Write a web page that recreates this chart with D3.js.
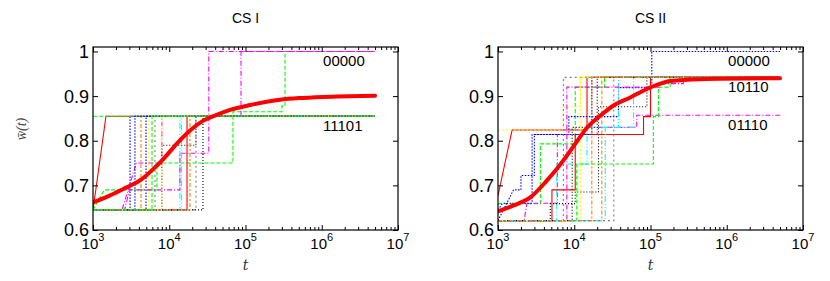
<!DOCTYPE html>
<html><head><meta charset="utf-8">
<script src="https://cdn.jsdelivr.net/npm/d3@7"></script>
<style>
html,body{margin:0;padding:0;background:#fff;}
svg{display:block;}
</style></head>
<body>
<script>
// ---------- data ----------
const panelTitles = ["CS I", "CS II"];
const xTickValues = [1e3, 1e4, 1e5, 1e6, 1e7];
const xTickExponents = ["3", "4", "5", "6", "7"];
const yTickValues = [0.6, 0.7, 0.8, 0.9, 1.0];
const yTickLabels = ["0.6", "0.7", "0.8", "0.9", "1"];
const END = 5e6;

// CS I : individual runs, [t, w] vertices
const cs1Runs = [
  [[1e3,.645],[1.48e3,.855],[END,.855]],
  [[1e3,.645],[1.4e3,.69],[6.9e3,.69],[6.9e3,.75],[6.85e4,.75],[6.85e4,.865],[3.0e5,.865],[3.0e5,.878],[3.3e5,.878],[3.3e5,1.0],[END,1.0]],
  [[1e3,.645],[3.06e3,.645],[3.06e3,.855],[END,.855]],
  [[1e3,.645],[2.4e3,.645],[3.7e3,.75],[8.0e3,.75],[8.0e3,.855],[8.73e4,.855],[8.73e4,1.0],[END,1.0]],
  [[1e3,.645],[1.38e4,.645],[1.38e4,.855],[END,.855]],
  [[1e3,.645],[5.4e3,.645],[5.4e3,.855],[END,.855]],
  [[1e3,.645],[8.0e3,.645],[8.0e3,.79],[2.24e4,.79],[2.24e4,.855],[END,.855]],
  [[1e3,.645],[4.26e3,.645],[4.26e3,.855],[END,.855]],
  [[1e3,.645],[6.5e3,.645],[6.5e3,.855],[END,.855]],
  [[1e3,.645],[1.71e4,.645],[1.71e4,.855],[END,.855]],
  [[1e3,.855],[END,.855]],
  [[1e3,.645],[3.55e3,.645],[3.55e3,.855],[END,.855]],
  [[1e3,.645],[2.6e3,.645],[3.0e3,.69],[1.38e4,.69],[1.38e4,.772],[3.3e4,.772],[3.3e4,1.0],[END,1.0]],
  [[1e3,.645],[1.45e4,.645],[1.45e4,.855],[END,.855]],
  [[1e3,.645],[8.0e3,.645],[8.0e3,.855],[END,.855]],
  [[1e3,.645],[2.77e4,.645],[2.77e4,.855],[END,.855]],
  [[1e3,.645],[1.87e4,.645],[1.87e4,.855],[END,.855]],
  [[1e3,.645],[2.24e4,.645],[2.24e4,.855],[END,.855]],
  [[1e3,.645],[4.96e3,.645],[4.96e3,.855],[END,.855]],
  [[1e3,.645],[5.94e3,.645],[5.94e3,.855],[END,.855]]
];
const cs1RunStyle = [0,1,2,3,4,5,6,7,8,0,1,2,3,4,5,6,7,8,2,1];
// CS I : mean curve
const cs1Mean = [[1e3,.662],[1.6e3,.676],[2.5e3,.692],[4.13e3,.711],[6.84e3,.744],[8.36e3,.759],[1.25e4,.793],[1.87e4,.823],[2.8e4,.845],[4.19e4,.858],[6.27e4,.869],[1.15e5,.880],[2.83e5,.892],[5.73e5,.896],[1.57e6,.899],[END,.901]];
const cs1LevelLabels = ["00000", "11101"];
const cs1LevelValues = [1.0, 0.855];

// CS II : individual runs
const cs2Runs = [
  [[1e3,.677],[1.53e3,.824],[1.47e4,.824],[1.47e4,.942],[END,.942]],
  [[1e3,.659],[3.6e3,.659],[3.6e3,.793],[1.03e4,.793],[1.03e4,.92],[2.5e4,.92],[2.5e4,.942],[END,.942]],
  [[1e3,.621],[1.6e3,.69],[2.0e3,.69],[2.0e3,.722],[3.0e3,.722],[3.0e3,.814],[8.5e3,.814],[8.5e3,.854],[3.8e4,.854],[3.8e4,.919],[1.04e5,.919],[1.04e5,1.0],[END,1.0]],
  [[1e3,.621],[2.2e3,.621],[2.4e3,.66],[6.0e3,.66],[6.0e3,.814],[2.0e4,.814],[2.0e4,.83],[6.6e4,.83],[6.6e4,.857],[END,.857]],
  [[1e3,.621],[5.9e3,.621],[5.9e3,.748],[1.47e4,.748],[1.47e4,.83],[3.8e4,.83],[3.8e4,.942],[END,.942]],
  [[1e3,.824],[7.2e3,.824],[7.2e3,.876],[1.2e4,.876],[1.2e4,.942],[END,.942]],
  [[1e3,.621],[4.85e3,.621],[4.85e3,.659],[1.03e4,.659],[1.03e4,.685],[2.08e4,.685],[2.08e4,.876],[8.97e4,.876],[8.97e4,.942],[END,.942]],
  [[1e3,.621],[2.3e4,.621],[2.3e4,.942],[END,.942]],
  [[1e3,.621],[7.2e3,.621],[7.2e3,.942],[END,.942]],
  [[1e3,.621],[5.1e3,.621],[5.1e3,.69],[1.03e4,.69],[1.03e4,.814],[8.1e4,.814],[8.1e4,.854],[1.0e5,.854],[1.0e5,.942],[END,.942]],
  [[1e3,.621],[1.08e4,.621],[1.08e4,.748],[1.09e5,.748],[1.09e5,.854],[1.27e5,.854],[1.27e5,.92],[1.81e5,.92],[1.81e5,.942],[END,.942]],
  [[1e3,.645],[1.15e3,.66],[2.8e3,.66],[2.8e3,.814],[1.7e4,.814],[1.7e4,.942],[END,.942]],
  [[1e3,.621],[8.0e3,.621],[8.0e3,.92],[1.34e5,.92],[1.34e5,.928],[2.7e5,.928],[2.7e5,.942],[END,.942]],
  [[1e3,.621],[2.55e4,.621],[2.55e4,.83],[6.0e4,.83],[6.0e4,.942],[END,.942]],
  [[1e3,.621],[1.2e4,.621],[1.2e4,.942],[END,.942]],
  [[1e3,.621],[9.4e3,.621],[9.4e3,.83],[2.0e4,.83],[2.0e4,.942],[END,.942]],
  [[1e3,.621],[1.7e4,.621],[1.7e4,.942],[END,.942]],
  [[1e3,.621],[3.3e4,.621],[3.3e4,.942],[END,.942]]
];
const cs2RunStyle = [0,1,2,3,4,5,6,7,8,0,1,2,3,4,5,6,7,8];
const cs2Mean = [[1e3,.642],[1.6e3,.655],[2.65e3,.673],[4.39e3,.711],[5.93e3,.737],[8.02e3,.767],[1.03e4,.793],[1.47e4,.829],[2.19e4,.856],[3.28e4,.879],[5.42e4,.897],[8.97e4,.916],[1.34e5,.928],[1.82e5,.934],[4.47e5,.938],[END,.940]];
const cs2LevelLabels = ["00000", "10110", "01110"];
const cs2LevelValues = [1.0, 0.942, 0.857];

// ---------- styles ----------
const lineColors = ["#ff0000","#00ff00","#0000ff","#ff00ff","#00ffff","#ffff00","#000000","#ff8000","#808080"];
const lineDashes = [null,"4,2","1.5,1.5","5,2,1,2","6,2,1,2,1,2","2,2","1,2","4,2,2,2","2,3"];

// ---------- drawing ----------
const W = 830, H = 281;
const svg = d3.select("body").append("svg").attr("width", W).attr("height", H);
const PW = 305, PH = 183, TOP = 47;
const panels = [
  {x0: 93, title: panelTitles[0], runs: cs1Runs, style: cs1RunStyle, mean: cs1Mean, labels: cs1LevelLabels, levels: cs1LevelValues},
  {x0: 498, title: panelTitles[1], runs: cs2Runs, style: cs2RunStyle, mean: cs2Mean, labels: cs2LevelLabels, levels: cs2LevelValues}
];
const x = d3.scaleLog().domain([1e3, 1e7]).range([0, PW]);
const y = d3.scaleLinear().domain([0.6, 1.01]).range([PH, 0]);
const minorTicks = [];
for (let e = 3; e < 7; e++) for (let m = 2; m <= 9; m++) minorTicks.push(m * Math.pow(10, e));
const font = "'Liberation Sans', Arial, Helvetica, sans-serif";

panels.forEach((p, pi) => {
  const g = svg.append("g").attr("transform", `translate(${p.x0},${TOP})`);
  const clipId = "clip" + pi;
  g.append("clipPath").attr("id", clipId).append("rect").attr("width", PW).attr("height", PH);
  const plot = g.append("g").attr("clip-path", `url(#${clipId})`);
  const line = d3.line().x(d => x(d[0])).y(d => y(d[1]));
  p.runs.forEach((r, i) => {
    const s = p.style[i];
    plot.append("path").attr("d", line(r)).attr("fill", "none")
      .attr("stroke", lineColors[s]).attr("stroke-width", 1.1)
      .attr("stroke-dasharray", lineDashes[s]);
  });
  plot.append("path").attr("d", line.curve(d3.curveMonotoneX)(p.mean)).attr("fill", "none")
    .attr("stroke", "#ff0000").attr("stroke-width", 4).attr("stroke-linecap", "round");

  // axes: major ticks inward, mirrored
  const axB = d3.axisBottom(x).tickValues(xTickValues).tickSizeInner(-5).tickSizeOuter(0).tickFormat("");
  const axT = d3.axisTop(x).tickValues(xTickValues).tickSizeInner(-5).tickSizeOuter(0).tickFormat("");
  const axBm = d3.axisBottom(x).tickValues(minorTicks).tickSizeInner(-3).tickSizeOuter(0).tickFormat("");
  const axTm = d3.axisTop(x).tickValues(minorTicks).tickSizeInner(-3).tickSizeOuter(0).tickFormat("");
  const axL = d3.axisLeft(y).tickValues(yTickValues).tickSizeInner(-5).tickSizeOuter(0).tickFormat("");
  const axR = d3.axisRight(y).tickValues(yTickValues).tickSizeInner(-5).tickSizeOuter(0).tickFormat("");
  [[axB, `translate(0,${PH})`], [axT, null], [axBm, `translate(0,${PH})`], [axTm, null], [axL, null], [axR, `translate(${PW},0)`]]
    .forEach(([ax, tr]) => {
      const a = g.append("g").call(ax);
      if (tr) a.attr("transform", tr);
      a.select(".domain").remove();
      a.selectAll("line").attr("stroke", "#000").attr("stroke-width", 1);
    });
  g.append("rect").attr("x", 0).attr("y", 0).attr("width", PW).attr("height", PH)
    .attr("fill", "none").attr("stroke", "#000").attr("stroke-width", 1.2);

  // x tick labels 10^n
  xTickValues.forEach((v, i) => {
    const t = g.append("text").attr("x", x(v)).attr("y", PH + 19).attr("text-anchor", "middle")
      .attr("font-family", font).attr("font-size", 15).attr("fill", "#000");
    t.append("tspan").text("10");
    t.append("tspan").attr("dy", -8).attr("font-size", 11).text(xTickExponents[i]);
  });
  // y tick labels
  yTickValues.forEach((v, i) => {
    g.append("text").attr("x", -4).attr("y", y(v)).attr("dy", "0.36em").attr("text-anchor", "end")
      .attr("font-family", font).attr("font-size", 18).attr("fill", "#000").text(yTickLabels[i]);
  });
  // title
  g.append("text").attr("x", PW / 2).attr("y", -24).attr("text-anchor", "middle")
    .attr("font-family", font).attr("font-size", 14).attr("fill", "#000").text(p.title);
  // x label
  g.append("text").attr("x", PW / 2).attr("y", PH + 40).attr("text-anchor", "middle")
    .attr("font-family", "'DejaVu Serif', 'Liberation Serif', serif").attr("font-style", "italic")
    .attr("font-size", 14).attr("fill", "#333").text("t");
  // level labels
  p.labels.forEach((lab, i) => {
    g.append("text").attr("x", x(1.04e6)).attr("y", y(p.levels[i]) + 14.5)
      .attr("font-family", font).attr("font-size", 15).attr("fill", "#000").text(lab);
  });
});

// y axis label
svg.append("text").attr("transform", "translate(26,129) rotate(-90)").attr("text-anchor", "middle")
  .attr("font-family", "'Liberation Serif', 'DejaVu Serif', serif").attr("font-style", "italic")
  .attr("font-size", 14).attr("fill", "#444").text("w\u0304(t)");
</script>
</body></html>
